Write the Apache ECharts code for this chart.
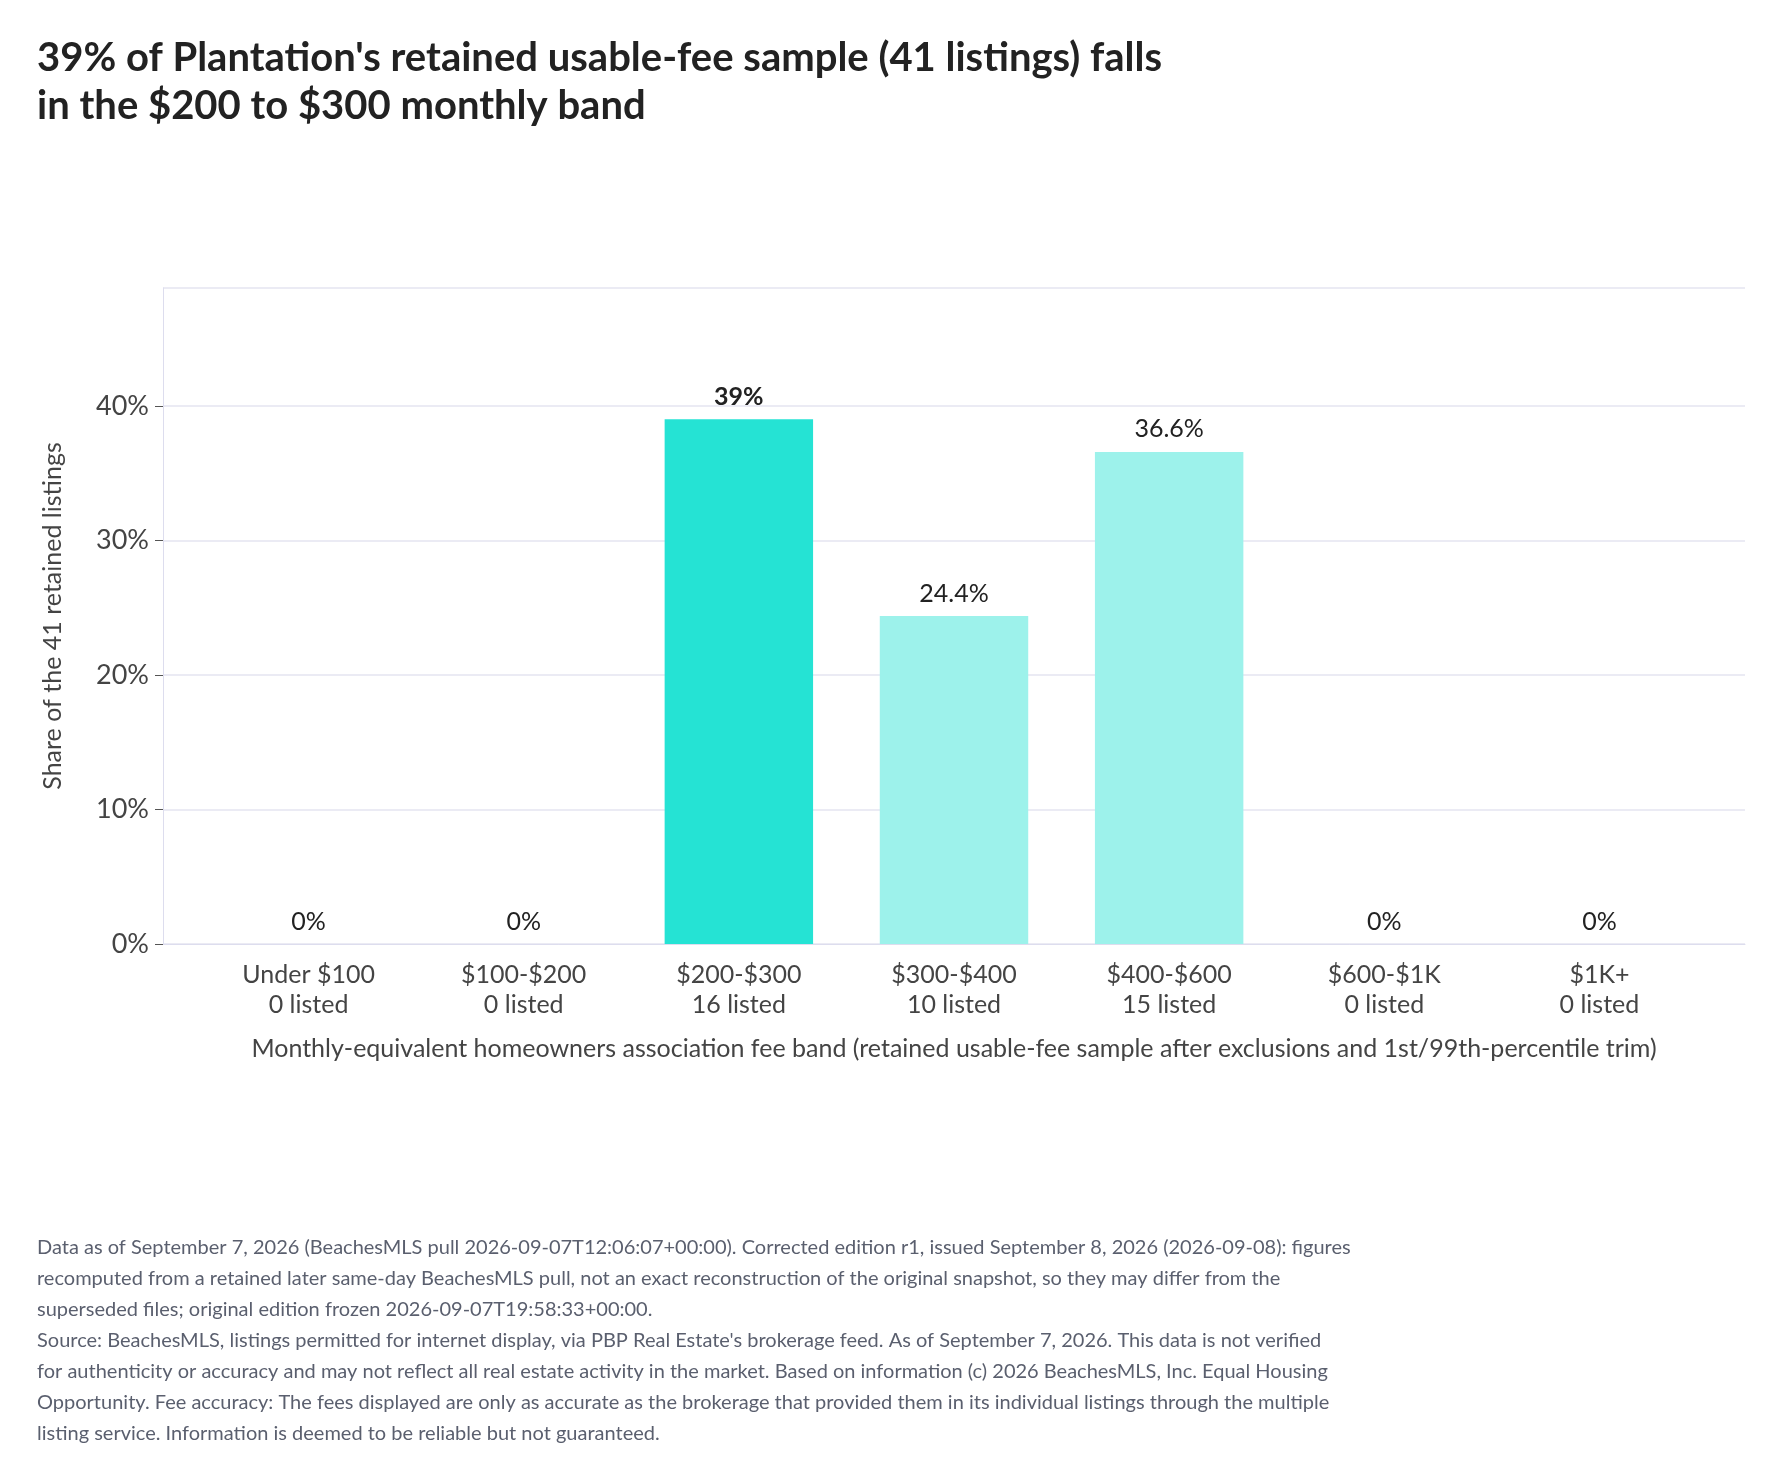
<!DOCTYPE html>
<html><head><meta charset="utf-8">
<script src="https://cdn.jsdelivr.net/npm/echarts@6/dist/echarts.min.js"></script>
<style>html,body{margin:0;background:#fff}#c{width:1782px;height:1477px}</style>
</head><body><div id="c"></div>
<script>
const categories = ['Under $100\n0 listed','$100-$200\n0 listed','$200-$300\n16 listed','$300-$400\n10 listed','$400-$600\n15 listed','$600-$1K\n0 listed','$1K+\n0 listed'];
const values = [0,0,39.02,24.39,36.59,0,0];
const labels = ['0%','0%','39%','24.4%','36.6%','0%','0%'];
const highlight = 2;
const footer = [
"Data as of September 7, 2026 (BeachesMLS pull 2026-09-07T12:06:07+00:00). Corrected edition r1, issued September 8, 2026 (2026-09-08): figures",
"recomputed from a retained later same-day BeachesMLS pull, not an exact reconstruction of the original snapshot, so they may differ from the",
"superseded files; original edition frozen 2026-09-07T19:58:33+00:00.",
"Source: BeachesMLS, listings permitted for internet display, via PBP Real Estate's brokerage feed. As of September 7, 2026. This data is not verified",
"for authenticity or accuracy and may not reflect all real estate activity in the market. Based on information (c) 2026 BeachesMLS, Inc. Equal Housing",
"Opportunity. Fee accuracy: The fees displayed are only as accurate as the brokerage that provided them in its individual listings through the multiple",
"listing service. Information is deemed to be reliable but not guaranteed."
];
const F = 'Lato, "Noto Sans", sans-serif';
const chart = echarts.init(document.getElementById('c'));
chart.setOption({
  animation:false,
  textStyle:{fontFamily:F},
  grid:[{left:163,right:37,top:288,bottom:533},{left:201,right:75,top:288,bottom:533}],
  graphic:[
    {type:'text',left:37,top:34,style:{text:"39% of Plantation's retained usable-fee sample (41 listings) falls\nin the $200 to $300 monthly band",font:'bold 40px '+F,fill:'#222',lineHeight:48}},
    {type:'text',left:37,top:1232,style:{text:footer.join('\n'),font:'20px '+F,fill:'#5a5f6e',lineHeight:31}}
  ],
  xAxis:[
   {type:'category',gridIndex:0,data:categories,axisLine:{lineStyle:{color:'#ddddee'}},axisTick:{show:false},axisLabel:{show:false}},
   {type:'category',gridIndex:1,data:categories,
    name:'Monthly-equivalent homeowners association fee band (retained usable-fee sample after exclusions and 1st/99th-percentile trim)',
    nameLocation:'middle',nameGap:92,nameTextStyle:{fontSize:25,color:'#444'},
    axisLine:{show:false},axisTick:{alignWithLabel:true,length:8,lineStyle:{color:'#555'}},
    axisLabel:{fontSize:25,color:'#444',lineHeight:30,margin:16}}],
  yAxis:[
   {type:'value',gridIndex:0,min:0,max:48.78,interval:10,
    name:'Share of the 41 retained listings',nameLocation:'middle',nameGap:98,nameTextStyle:{fontSize:25,color:'#444'},
    axisLine:{show:true,lineStyle:{color:'#ddddee'}},axisTick:{show:true,length:8,lineStyle:{color:'#555'}},
    splitLine:{lineStyle:{color:'#e4e4f0',width:1.5}},
    axisLabel:{fontSize:27,color:'#444',margin:14,showMaxLabel:false,formatter:v=>(Math.abs(v%10)<1e-6?v+'%':'')}},
   {type:'value',gridIndex:1,min:0,max:48.78,interval:10,show:false,splitLine:{show:false}}],
  series:[{type:'bar',xAxisIndex:1,yAxisIndex:1,barWidth:'69%',
    data:values.map((v,i)=>({value:v,itemStyle:{color:i===highlight?'#25e3d4':'#9df2eb'},
      label:{fontWeight:i===highlight?'bold':'normal'}})),
    label:{show:true,position:'top',distance:10,fontSize:25,color:'#222',formatter:p=>labels[p.dataIndex]}}]
});
</script></body></html>
